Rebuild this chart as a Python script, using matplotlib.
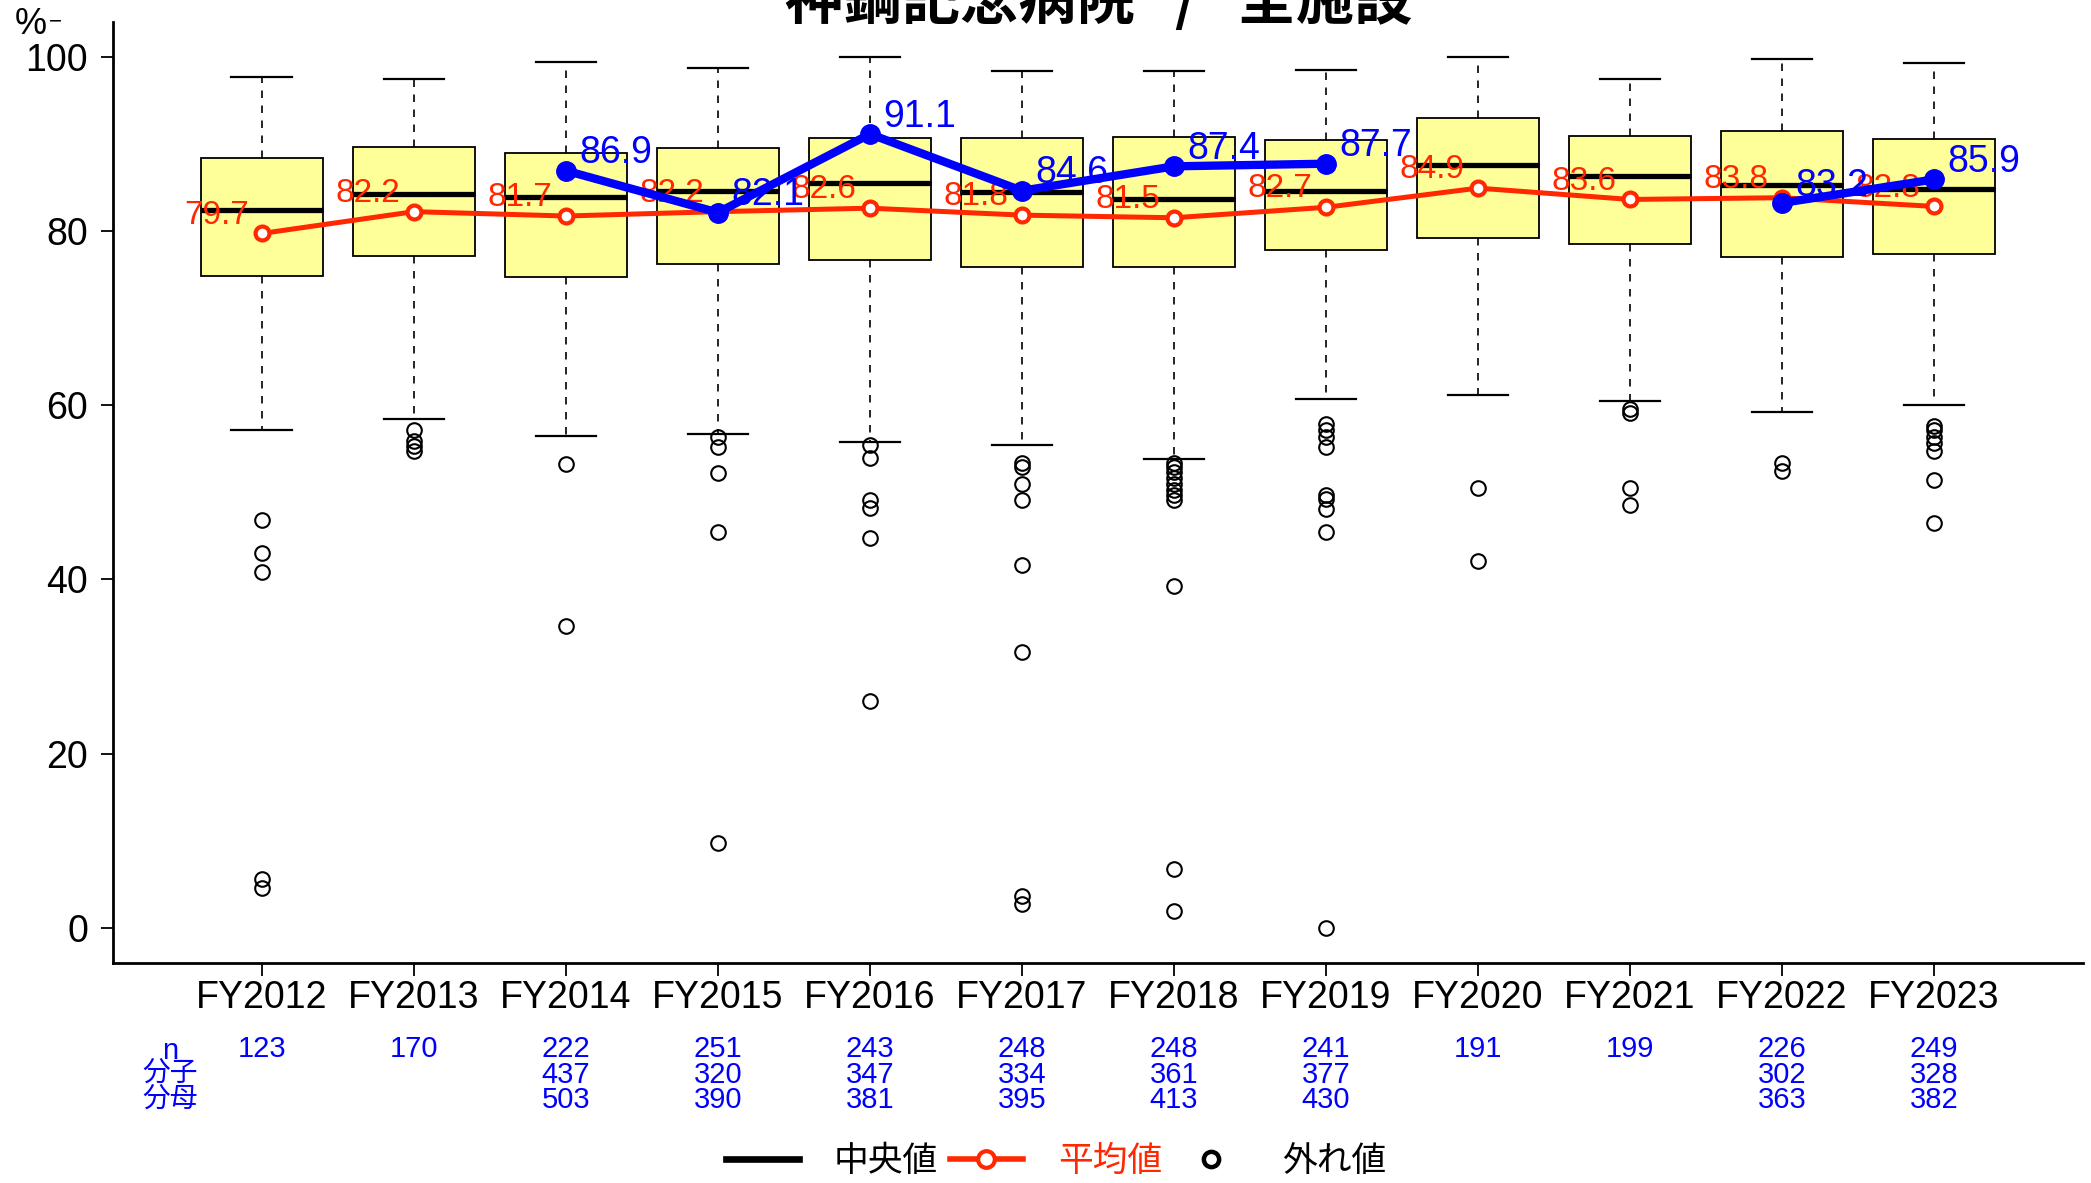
import numpy as np
import matplotlib
matplotlib.use("Agg")
import matplotlib.pyplot as plt
from matplotlib.lines import Line2D
from matplotlib.transforms import blended_transform_factory

plt.rcParams['font.family'] = ['Liberation Sans', 'Noto Sans CJK JP', 'DejaVu Sans']

# data
years = ['FY2012', 'FY2013', 'FY2014', 'FY2015', 'FY2016', 'FY2017',
         'FY2018', 'FY2019', 'FY2020', 'FY2021', 'FY2022', 'FY2023']
whis_hi = [97.6, 97.4, 99.4, 98.7, 100.0, 98.3, 98.3, 98.4, 100.0, 97.4, 99.7, 99.3]
q3 = [88.3, 89.6, 88.9, 89.5, 90.7, 90.6, 90.8, 90.4, 92.9, 90.9, 91.4, 90.5]
med = [82.4, 84.2, 83.9, 84.6, 85.5, 84.5, 83.6, 84.6, 87.5, 86.3, 85.3, 84.8]
q1 = [74.8, 77.1, 74.7, 76.2, 76.7, 75.8, 75.9, 77.8, 79.2, 78.5, 77.0, 77.3]
whis_lo = [57.2, 58.4, 56.5, 56.7, 55.8, 55.4, 53.8, 60.7, 61.2, 60.5, 59.2, 60.0]
fliers = [
    [46.8, 43.0, 40.9, 5.6, 4.6],
    [57.2, 55.9, 55.3, 54.7],
    [53.3, 34.7],
    [56.3, 55.2, 52.2, 45.5, 9.8],
    [55.4, 53.9, 49.1, 48.2, 44.8, 26.1],
    [53.4, 52.9, 51.0, 49.1, 41.7, 31.7, 3.7, 2.8],
    [53.4, 52.9, 52.3, 51.6, 51.0, 50.3, 49.7, 49.1, 39.3, 6.8, 2.0],
    [57.8, 57.2, 56.3, 55.2, 49.7, 49.2, 48.1, 45.5, 0.0],
    [50.5, 42.1],
    [59.6, 59.1, 50.5, 48.6],
    [53.4, 52.4],
    [57.6, 57.2, 56.3, 55.6, 54.7, 51.4, 46.5],
]
means = [79.7, 82.2, 81.7, 82.2, 82.6, 81.8, 81.5, 82.7, 84.9, 83.6, 83.8, 82.8]
hospital = [np.nan, np.nan, 86.9, 82.1, 91.1, 84.6, 87.4, 87.7, np.nan, np.nan, 83.2, 85.9]
n_all = [123, 170, 222, 251, 243, 248, 248, 241, 191, 199, 226, 249]
numer = [None, None, 437, 320, 347, 334, 361, 377, None, None, 302, 328]
denom = [None, None, 503, 390, 381, 395, 413, 430, None, None, 363, 382]

RED = '#FF2800'
BLUE = '#0000FF'

fig = plt.figure(figsize=(20.91, 11.83), dpi=100)
ax = fig.add_axes([0.054, 0.186, 0.9422, 0.7957])

x = np.arange(1, len(years) + 1)
stats = []
for i in range(len(years)):
    stats.append(dict(med=med[i], q1=q1[i], q3=q3[i], whislo=whis_lo[i],
                      whishi=whis_hi[i], fliers=fliers[i]))

ax.bxp(stats, positions=x, widths=0.8, capwidths=0.4, patch_artist=True,
       boxprops=dict(facecolor='#FFFF99', edgecolor='black', linewidth=1.3),
       whiskerprops=dict(color='black', linestyle=(0, (4.5, 4.5)), linewidth=1.2),
       capprops=dict(color='black', linewidth=1.6),
       medianprops=dict(color='black', linewidth=3.8),
       flierprops=dict(marker='o', markerfacecolor='none', markeredgecolor='black',
                       markersize=10.5, markeredgewidth=1.5))

ax.plot(x, means, color=RED, lw=3.6, marker='o', ms=10, mfc='white', mec=RED,
        mew=3, zorder=4)
for xi, m in zip(x, means):
    ax.text(xi - 0.088, m + 2.1, f'{m:.1f}', color=RED, fontsize=24,
            ha='right', va='center', zorder=5)

ax.plot(x, hospital, color=BLUE, lw=6, marker='o', ms=14, zorder=6)
for xi, h in zip(x, hospital):
    if not np.isnan(h):
        ax.text(xi + 0.09, h + 2.0, f'{h:.1f}', color=BLUE, fontsize=27,
                ha='left', va='center', zorder=7)

ax.set_xlim(0.02, 12.98)
ax.set_ylim(-4, 104)
ax.set_xticks(x)
ax.set_xticklabels(years, fontsize=27)
ax.set_yticks([0, 20, 40, 60, 80, 100])
ax.set_yticklabels(['0', '20', '40', '60', '80', '100'], fontsize=27)
ax.tick_params(axis='both', length=9, width=1.3, color='black')
ax.tick_params(axis='y', pad=9)
ax.tick_params(axis='x', pad=3)
for s in ['top', 'right']:
    ax.spines[s].set_visible(False)
for s in ['left', 'bottom']:
    ax.spines[s].set_linewidth(2)

# count table under the axis
tr = blended_transform_factory(ax.transData, fig.transFigure)
rows_y = [0.1133, 0.0913, 0.0702]
for i in range(len(years)):
    ax.text(x[i], rows_y[0], str(n_all[i]), transform=tr, color=BLUE,
            fontsize=21, ha='center', va='center')
    if numer[i] is not None:
        ax.text(x[i], rows_y[1], str(numer[i]), transform=tr, color=BLUE,
                fontsize=21, ha='center', va='center')
        ax.text(x[i], rows_y[2], str(denom[i]), transform=tr, color=BLUE,
                fontsize=21, ha='center', va='center')
fig.text(0.0813, 0.1115, 'n', color=BLUE, fontsize=21, ha='center', va='center')
fig.text(0.0813, 0.0930, '分子', color=BLUE, fontsize=20, ha='center', va='center',
         family=['Noto Sans CJK JP'])
fig.text(0.0813, 0.0710, '分母', color=BLUE, fontsize=20, ha='center', va='center',
         family=['Noto Sans CJK JP'])

fig.text(0.5256, 0.984, '神鋼記念病院   /   全施設', fontsize=42, fontweight='bold',
         ha='center', va='baseline', family=['Noto Sans CJK JP'])
fig.text(15 / 2091, 1 - 25 / 1183, '%', fontsize=26, ha='left', va='center')
fig.text(49 / 2091, 1 - 22 / 1183, '\u2212', fontsize=16, ha='left', va='center')

handles = [
    Line2D([], [], color='black', lw=4.8),
    Line2D([], [], color=RED, lw=4, marker='o', ms=12, mfc='white', mec=RED, mew=3),
    Line2D([], [], color='black', ls='none', marker='o', ms=11, mfc='none', mew=3.2),
]
leg = fig.legend(handles, ['中央値', '平均値', '外れ値'], loc='center',
                 bbox_to_anchor=(0.505, 0.018), ncol=3, frameon=False,
                 prop={'family': ['Noto Sans CJK JP'], 'size': 25},
                 handlelength=2.1, handletextpad=1.0, columnspacing=0.35)
leg.get_texts()[1].set_color(RED)

fig.savefig('out.png', dpi=100)
